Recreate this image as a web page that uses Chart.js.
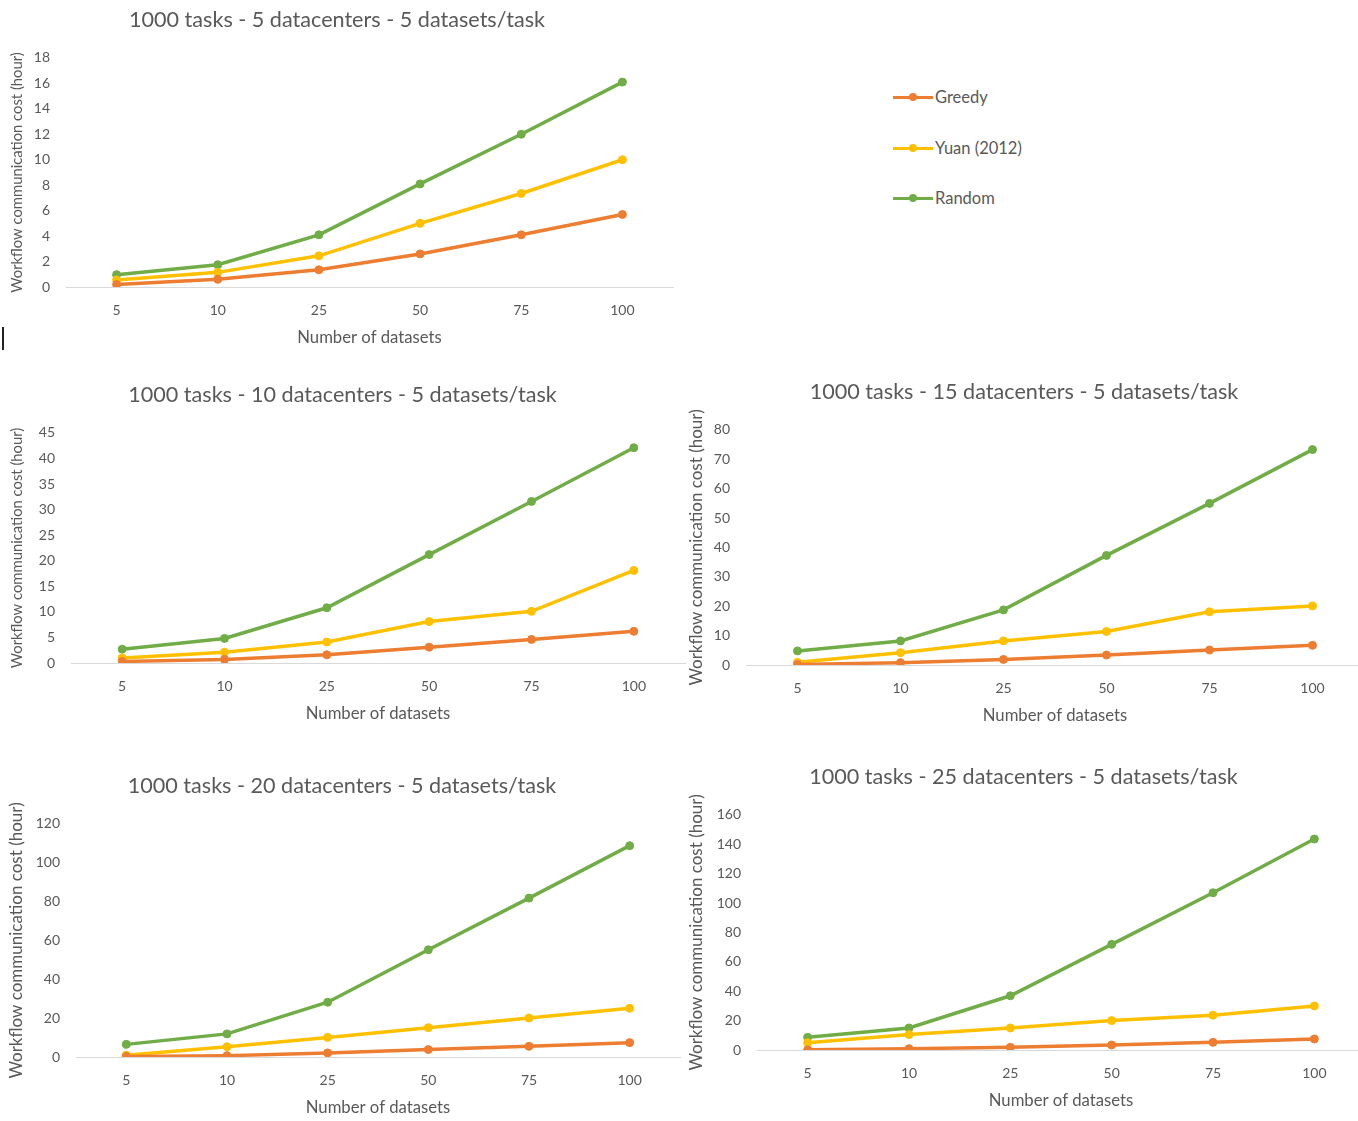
<!DOCTYPE html>
<html>
<head>
<meta charset="utf-8">
<script src="https://cdn.jsdelivr.net/npm/chart.js@4"></script>
<style>
  body { margin: 0; width: 1358px; height: 1121px; overflow: hidden; background: #fff; font-family: Lato, sans-serif; }
  .panel { position: absolute; }
  .legend-item { position: absolute; height: 18px; display: flex; align-items: center; color: #595959; font-size: 16.5px; }
  .legend-line { position: relative; width: 40px; height: 3px; margin-right: 2px; }
  .legend-dot { position: absolute; left: 16px; top: -2.5px; width: 8px; height: 8px; border-radius: 50%; }
  #cursor { position: absolute; left: 2px; top: 327px; width: 2px; height: 23px; background: #222; }
</style>
</head>
<body>
<div id="cursor"></div>
<div id="legend"></div>
<div id="panels"></div>

<script>
const categories = ['5', '10', '25', '50', '75', '100'];
const seriesNames = ['Greedy', 'Yuan (2012)', 'Random'];
const seriesColors = ['#ED7D31', '#FFC000', '#70AD47'];

const panelTitles = [
  '1000 tasks - 5 datacenters - 5 datasets/task',
  '1000 tasks - 10 datacenters - 5 datasets/task',
  '1000 tasks - 15 datacenters - 5 datasets/task',
  '1000 tasks - 20 datacenters - 5 datasets/task',
  '1000 tasks - 25 datacenters - 5 datasets/task',
];
const xTitle = 'Number of datasets';
const yTitle = 'Workflow communication cost (hour)';

// values per panel (greedy / yuan / random)
const greedy5dc  = [0.2, 0.6, 1.35, 2.6, 4.1, 5.7];
const yuan5dc    = [0.55, 1.15, 2.45, 5.0, 7.35, 10.0];
const random5dc  = [0.97, 1.75, 4.1, 8.1, 12.0, 16.1];

const greedy10dc = [0.3, 0.7, 1.6, 3.1, 4.6, 6.2];
const yuan10dc   = [1.0, 2.1, 4.1, 8.1, 10.1, 18.1];
const random10dc = [2.7, 4.8, 10.8, 21.2, 31.6, 42.1];

const greedy15dc = [0.2, 0.8, 1.9, 3.4, 5.1, 6.7];
const yuan15dc   = [0.9, 4.2, 8.2, 11.4, 18.1, 20.1];
const random15dc = [4.8, 8.2, 18.75, 37.3, 55.0, 73.3];

const greedy20dc = [0.3, 0.7, 2.1, 3.8, 5.5, 7.4];
const yuan20dc   = [0.9, 5.3, 10.1, 15.1, 20.1, 25.1];
const random20dc = [6.5, 11.9, 28.2, 55.2, 81.8, 108.8];

const greedy25dc = [0.1, 0.9, 1.8, 3.4, 5.2, 7.5];
const yuan25dc   = [5.0, 10.5, 15.0, 20.0, 23.7, 30.0];
const random25dc = [8.6, 15.0, 36.9, 71.9, 107.0, 143.6];

const yMax  = [18, 45, 80, 120, 160];
const yStep = [2, 5, 10, 20, 20];

const panelSeries = [
  [greedy5dc, yuan5dc, random5dc],
  [greedy10dc, yuan10dc, random10dc],
  [greedy15dc, yuan15dc, random15dc],
  [greedy20dc, yuan20dc, random20dc],
  [greedy25dc, yuan25dc, random25dc],
];

// where each panel sits on the page
const layout = [
  { left: 0,   top: 0,   width: 678, height: 360, yAxisWidth: 66, padRight: 4, yFont: 14.8 },
  { left: 0,   top: 375, width: 694, height: 361, yAxisWidth: 71, padRight: 9, yFont: 14.8 },
  { left: 680, top: 372, width: 689, height: 366, yAxisWidth: 66, padRight: 1, yFont: 17 },
  { left: 0,   top: 766, width: 685, height: 364, yAxisWidth: 76, padRight: 1, yFont: 17 },
  { left: 680, top: 757, width: 690, height: 366, yAxisWidth: 77, padRight: 3, yFont: 17 },
];

const grey = '#595959';
const fontFamily = 'Lato, sans-serif';

// legend
const legendBox = document.getElementById('legend');
const legendY = [88, 139, 189];
seriesNames.forEach((name, i) => {
  const item = document.createElement('div');
  item.className = 'legend-item';
  item.style.left = '893px';
  item.style.top = legendY[i] + 'px';
  item.innerHTML = `<span class="legend-line" style="background:${seriesColors[i]}"><span class="legend-dot" style="background:${seriesColors[i]}"></span></span>${name}`;
  legendBox.appendChild(item);
});

const panelsBox = document.getElementById('panels');
layout.forEach((box, p) => {
  const wrap = document.createElement('div');
  wrap.className = 'panel';
  wrap.style.left = box.left + 'px';
  wrap.style.top = box.top + 'px';
  const canvas = document.createElement('canvas');
  canvas.width = box.width;
  canvas.height = box.height;
  wrap.appendChild(canvas);
  panelsBox.appendChild(wrap);

  const yLine = box.yFont * 1.2;

  new Chart(canvas.getContext('2d'), {
    type: 'line',
    data: {
      labels: categories,
      datasets: panelSeries[p].map((values, i) => ({
        label: seriesNames[i],
        data: values,
        borderColor: seriesColors[i],
        backgroundColor: seriesColors[i],
        borderWidth: 3.5,
        pointRadius: 4,
        pointBorderWidth: 1,
        pointBackgroundColor: seriesColors[i],
        tension: 0,
      })),
    },
    options: {
      responsive: false,
      animation: false,
      layout: { padding: { left: 0, top: 0, bottom: 0, right: box.padRight } },
      plugins: {
        legend: { display: false },
        tooltip: { enabled: false },
        title: {
          display: true,
          text: panelTitles[p],
          color: grey,
          font: { family: fontFamily, size: 21.6, weight: 'normal' },
          padding: { top: 7, bottom: 25 },
        },
      },
      scales: {
        x: {
          offset: true,
          grid: { display: false, drawTicks: false },
          border: { display: true, color: '#D9D9D9', width: 1 },
          ticks: { color: grey, padding: 15.5, font: { family: fontFamily, size: 14 } },
          title: {
            display: true,
            text: xTitle,
            color: grey,
            font: { family: fontFamily, size: 16.7 },
            padding: { top: 0, bottom: 12.5 },
          },
          afterFit: s => { s.height = 73; },
        },
        y: {
          min: 0,
          max: yMax[p],
          grid: { display: false, drawTicks: false },
          border: { display: false },
          ticks: { stepSize: yStep[p], color: grey, padding: 16, font: { family: fontFamily, size: 14 } },
          title: {
            display: true,
            text: yTitle,
            color: grey,
            font: { family: fontFamily, size: box.yFont },
            padding: { top: 17 - yLine / 2, bottom: 0 },
          },
          afterFit: s => { s.width = box.yAxisWidth; },
        },
      },
    },
  });
});
</script>
</body>
</html>
